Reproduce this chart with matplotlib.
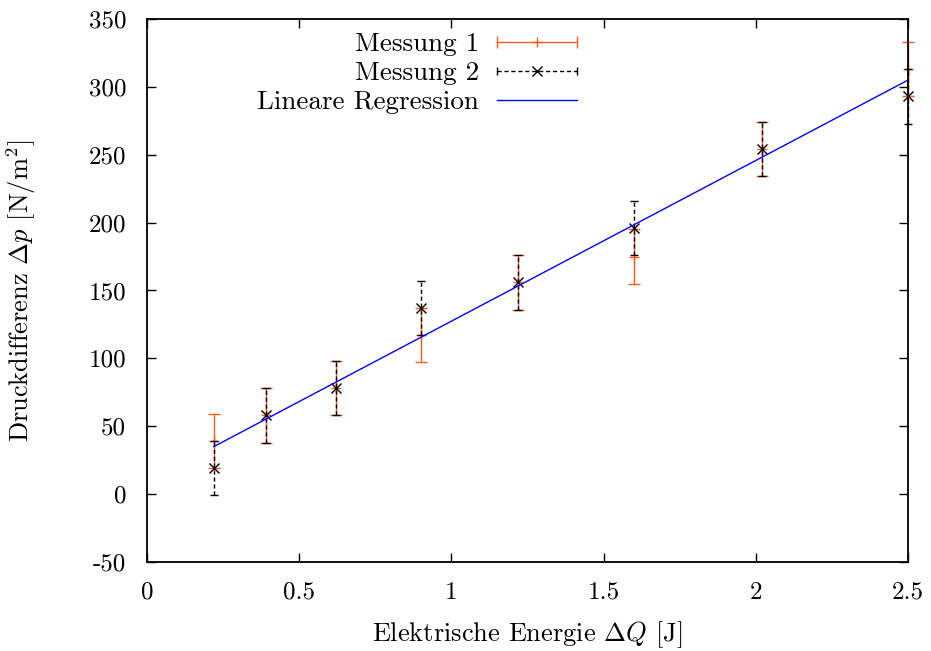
import matplotlib
matplotlib.use("Agg")
import matplotlib.pyplot as plt
import numpy as np

plt.rcParams['font.family'] = 'cmr10'
plt.rcParams['mathtext.fontset'] = 'cm'
plt.rcParams['axes.unicode_minus'] = False
plt.rcParams['axes.formatter.use_mathtext'] = True

# Data
energy = [0.22, 0.39, 0.62, 0.90, 1.22, 1.60, 2.02, 2.50]
messung1 = [39, 58, 78, 117, 156, 175, 254, 313]
messung2 = [19, 58, 78, 137, 156, 196, 254, 293]
err1 = [20, 20, 20, 20, 20, 20, 20, 20]
err2 = [20, 20, 20, 20, 20, 20, 20, 20]
reg_slope = 118.4
reg_intercept = 9.0
xticks = [0, 0.5, 1, 1.5, 2, 2.5]
xticklabels = ['0', '0.5', '1', '1.5', '2', '2.5']
yticks = [-50, 0, 50, 100, 150, 200, 250, 300, 350]
yticklabels = ['-50', '0', '50', '100', '150', '200', '250', '300', '350']
labels = ['Messung 1', 'Messung 2', 'Lineare Regression']

orange = '#ff5a1e'
blue = '#0000ff'

L, R, T, B = 147, 908, 19, 562
fig = plt.figure(figsize=(9.31, 6.51), dpi=100)
ax = fig.add_axes([L/931, 1-B/651, (R-L)/931, (B-T)/651])

e1 = ax.errorbar(energy, messung1, yerr=err1, fmt='+', color=orange, ecolor=orange,
                 elinewidth=1.0, capsize=4, capthick=1.0, markersize=7, mew=1.0,
                 zorder=2, clip_on=False)
e2 = ax.errorbar(energy, messung2, yerr=err2, fmt='x', color='black', ecolor='black',
                 elinewidth=1.0, capsize=3, capthick=1.0, markersize=7, mew=1.0,
                 zorder=3, clip_on=False)
for ln in e2[2]:
    ln.set_linestyle((0, (3, 2)))

xr = np.array([energy[0], energy[-1]])
ax.plot(xr, reg_slope * xr + reg_intercept, color=blue, lw=1.0, zorder=4)

ax.set_xlim(0, 2.5)
ax.set_ylim(-50, 350)
ax.set_xticks(xticks)
ax.set_xticklabels(xticklabels)
ax.set_yticks(yticks)
ax.set_yticklabels(yticklabels)
ax.tick_params(direction='in', length=6.5, width=1.0, top=True, right=True,
               labelsize=18, color='black')
ax.tick_params(axis='x', pad=14)
ax.tick_params(axis='y', pad=15)
for s in ax.spines.values():
    s.set_linewidth(1.3)

ax.set_xlabel(r'Elektrische Energie $\Delta Q$ [J]', fontsize=19)
ax.set_ylabel(r'Druckdifferenz $\Delta p$ [N/m$^2$]', fontsize=19)
ax.xaxis.set_label_coords(0.5, (B - 619) / (B - T))
ax.yaxis.set_label_coords((38 - L) / (R - L), 0.5)

# Legend (gnuplot style: text right-aligned, sample to the right)
to_ax = lambda px, py: ((px - L) / (R - L), (B - py) / (B - T))
rows = [42, 71, 100]
x_text = 479
xs0, xs1 = 497, 577
for i, (lab, ry) in enumerate(zip(labels, rows)):
    tx, ty = to_ax(x_text, ry)
    ax.text(tx, ty, lab, transform=ax.transAxes, ha='right', va='center_baseline', fontsize=19.5)
    a0, yy = to_ax(xs0, ry)
    a1, _ = to_ax(xs1, ry)
    am = (a0 + a1) / 2
    if i == 0:
        ax.plot([a0, a1], [yy, yy], color=orange, lw=1.0, transform=ax.transAxes, clip_on=False)
        ax.plot([a0, a1], [yy, yy], ls='none', marker='|', ms=8, mew=1.0, color=orange,
                transform=ax.transAxes, clip_on=False)
        ax.plot([am], [yy], ls='none', marker='+', ms=7, mew=1.0, color=orange,
                transform=ax.transAxes, clip_on=False)
    elif i == 1:
        ax.plot([a0, a1], [yy, yy], color='black', lw=1.0, ls=(0, (3, 2)),
                transform=ax.transAxes, clip_on=False)
        ax.plot([a0, a1], [yy, yy], ls='none', marker='|', ms=6, mew=1.0, color='black',
                transform=ax.transAxes, clip_on=False)
        ax.plot([am], [yy], ls='none', marker='x', ms=7, mew=1.0, color='black',
                transform=ax.transAxes, clip_on=False)
    else:
        ax.plot([a0, a1], [yy, yy], color=blue, lw=1.0, transform=ax.transAxes, clip_on=False)

fig.savefig('out.png', dpi=100)
